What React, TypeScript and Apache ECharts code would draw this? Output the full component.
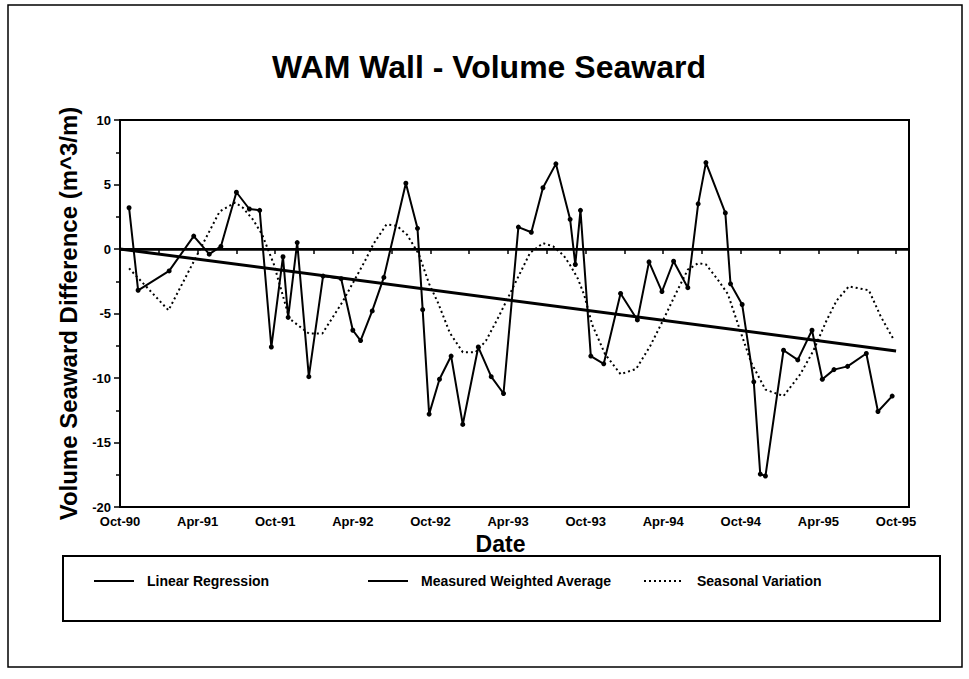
import { useEffect, useRef } from "react";
import * as echarts from "echarts";

// months counted from Oct-90
const measuredMonths = [0.7, 1.4, 3.8, 5.7, 6.9, 7.8, 9.0, 10.0, 10.8, 11.7, 12.6, 13.0, 13.7, 14.6, 15.7, 17.1, 18.0, 18.6, 19.5, 20.4, 22.1, 23.0, 23.4, 23.9, 24.7, 25.6, 26.5, 27.7, 28.7, 29.65, 30.8, 31.8, 32.7, 33.7, 34.8, 35.2, 35.6, 36.4, 37.4, 38.7, 40.0, 40.9, 41.9, 42.8, 43.9, 44.7, 45.3, 46.8, 47.2, 48.1, 49.0, 49.5, 49.9, 51.3, 52.4, 53.5, 54.3, 55.2, 56.25, 57.7, 58.6, 59.7];
const measuredValues = [3.2, -3.2, -1.7, 1.0, -0.4, 0.2, 4.4, 3.1, 3.0, -7.6, -0.6, -5.3, 0.5, -9.9, -2.1, -2.3, -6.3, -7.1, -4.8, -2.2, 5.1, 1.6, -4.7, -12.8, -10.1, -8.3, -13.6, -7.6, -9.9, -11.2, 1.7, 1.3, 4.75, 6.6, 2.3, -1.2, 3.0, -8.3, -8.9, -3.45, -5.5, -1.0, -3.3, -0.95, -3.0, 3.5, 6.7, 2.8, -2.7, -4.3, -10.3, -17.45, -17.6, -7.85, -8.6, -6.3, -10.1, -9.35, -9.1, -8.1, -12.6, -11.4];

const seasonalMonths = [0.7, 3.75, 7.7, 8.9, 9.5, 10.3, 11.0, 11.9, 13.1, 14.6, 15.65, 17.2, 18.9, 19.6, 20.6, 21.4, 22.2, 23.1, 23.9, 24.6, 25.5, 26.5, 27.5, 28.3, 29.3, 31.7, 32.7, 33.5, 34.3, 34.8, 35.4, 35.9, 36.5, 37.5, 38.7, 39.9, 41.0, 42.0, 43.0, 43.9, 44.7, 45.3, 46.2, 47.0, 47.9, 48.8, 49.9, 51.3, 52.6, 53.6, 54.6, 55.4, 56.35, 57.9, 58.8, 59.8];
const seasonalValues = [-1.5, -4.75, 2.9, 3.6, 3.2, 2.25, 1.1, -1.2, -5.4, -6.55, -6.55, -4.1, -1.0, 0.4, 1.9, 1.8, 1.1, -0.4, -2.7, -4.2, -6.5, -8.0, -8.0, -7.1, -5.2, -0.3, 0.45, 0.2, -0.5, -1.25, -2.3, -3.6, -5.85, -8.15, -9.7, -9.3, -7.5, -5.5, -3.4, -1.6, -1.1, -1.2, -2.35, -3.5, -6.2, -8.8, -10.9, -11.4, -9.7, -7.9, -5.6, -4.0, -2.9, -3.2, -5.2, -7.0];

const regressionMonths = [0, 60];
const regressionValues = [0, -7.9];

const xTickLabels = ["Oct-90", "Apr-91", "Oct-91", "Apr-92", "Oct-92", "Apr-93", "Oct-93", "Apr-94", "Oct-94", "Apr-95", "Oct-95"];

const FONT = "'Liberation Sans', Arial, Helvetica, sans-serif";

const pairs = (xs: number[], ys: number[]) => xs.map((x, i) => [x, ys[i]]);

export default function App() {
  const ref = useRef<HTMLDivElement>(null);
  useEffect(() => {
    if (!ref.current) return;
    const chart = echarts.init(ref.current, null, { renderer: "svg" });
    const legendBase = {
      top: 569,
      itemWidth: 40,
      itemHeight: 10,
      selectedMode: false,
      itemStyle: { opacity: 0 },
      textStyle: { fontFamily: FONT, fontWeight: "bold", fontSize: 14, color: "#000", padding: [0, 0, 0, 8] },
    };
    chart.setOption({
      animation: false,
      backgroundColor: "#fff",
      title: {
        text: "WAM Wall - Volume Seaward",
        left: 484,
        textAlign: "center",
        top: 46,
        textStyle: { fontFamily: FONT, fontWeight: "bold", fontSize: 32, color: "#000" },
      },
      grid: {
        left: 120,
        right: 60,
        top: 120,
        bottom: 172,
        show: true,
        borderColor: "#000",
        borderWidth: 2,
        backgroundColor: "transparent",
      },
      xAxis: {
        type: "value",
        min: 0,
        max: 61,
        interval: 3,
        name: "Date",
        nameLocation: "middle",
        nameGap: 12,
        nameTextStyle: { fontFamily: FONT, fontWeight: "bold", fontSize: 23, color: "#000", padding: [0, 28, 0, 0] },
        axisLine: { lineStyle: { color: "#000", width: 2 } },
        axisTick: { show: true, length: 5, lineStyle: { color: "#000", width: 1.5 } },
        splitLine: { show: false },
        axisLabel: {
          margin: 8,
          fontFamily: FONT,
          fontWeight: "bold",
          fontSize: 13,
          color: "#000",
          formatter: (v: number) => (Math.abs(v % 6) < 1e-6 ? xTickLabels[Math.round(v / 6)] ?? "" : ""),
        },
      },
      yAxis: {
        type: "value",
        min: -20,
        max: 10,
        interval: 5,
        name: "Volume Seaward Difference (m^3/m)",
        nameLocation: "middle",
        nameGap: 40,
        nameTextStyle: { fontFamily: FONT, fontWeight: "bold", fontSize: 24, color: "#000" },
        axisLine: { show: true, lineStyle: { color: "#000", width: 2 } },
        axisTick: { show: true, length: 6, lineStyle: { color: "#000", width: 1.5 } },
        minorTick: { show: true, splitNumber: 2, length: 4, lineStyle: { color: "#000", width: 1.5 } },
        splitLine: { show: false },
        axisLabel: { margin: 9, fontFamily: FONT, fontWeight: "bold", fontSize: 13, color: "#000" },
      },
      legend: [
        { ...legendBase, data: ["Linear Regression"], left: 88 },
        { ...legendBase, data: ["Measured Weighted Average"], left: 362 },
        { ...legendBase, data: ["Seasonal Variation"], left: 638 },
      ],
      graphic: [
        { type: "rect", shape: { x: 8, y: 5, width: 954, height: 662 }, style: { fill: "none", stroke: "#000", lineWidth: 1.5 }, silent: true },
        { type: "rect", shape: { x: 63, y: 556, width: 877, height: 65 }, style: { fill: "none", stroke: "#000", lineWidth: 2 }, silent: true },
      ],
      series: [
        {
          name: "Linear Regression",
          type: "line",
          data: pairs(regressionMonths, regressionValues),
          symbol: "none",
          lineStyle: { color: "#000", width: 3 },
          itemStyle: { color: "#000" },
          z: 2,
          markLine: {
            silent: true,
            symbol: ["none", "none"],
            label: { show: false },
            lineStyle: { color: "#000", width: 2.5, type: "solid" },
            data: [{ yAxis: 0 }],
          },
        },
        {
          name: "Measured Weighted Average",
          type: "line",
          data: pairs(measuredMonths, measuredValues),
          symbol: "circle",
          symbolSize: 5,
          lineStyle: { color: "#000", width: 2 },
          itemStyle: { color: "#000" },
          z: 4,
        },
        {
          name: "Seasonal Variation",
          type: "line",
          data: pairs(seasonalMonths, seasonalValues),
          symbol: "none",
          lineStyle: { color: "#000", width: 2, type: [2, 3] },
          itemStyle: { color: "#000" },
          z: 3,
        },
      ],
    });
    return () => chart.dispose();
  }, []);
  return <div ref={ref} style={{ position: "fixed", left: 0, top: 0, width: 969, height: 679 }} />;
}
